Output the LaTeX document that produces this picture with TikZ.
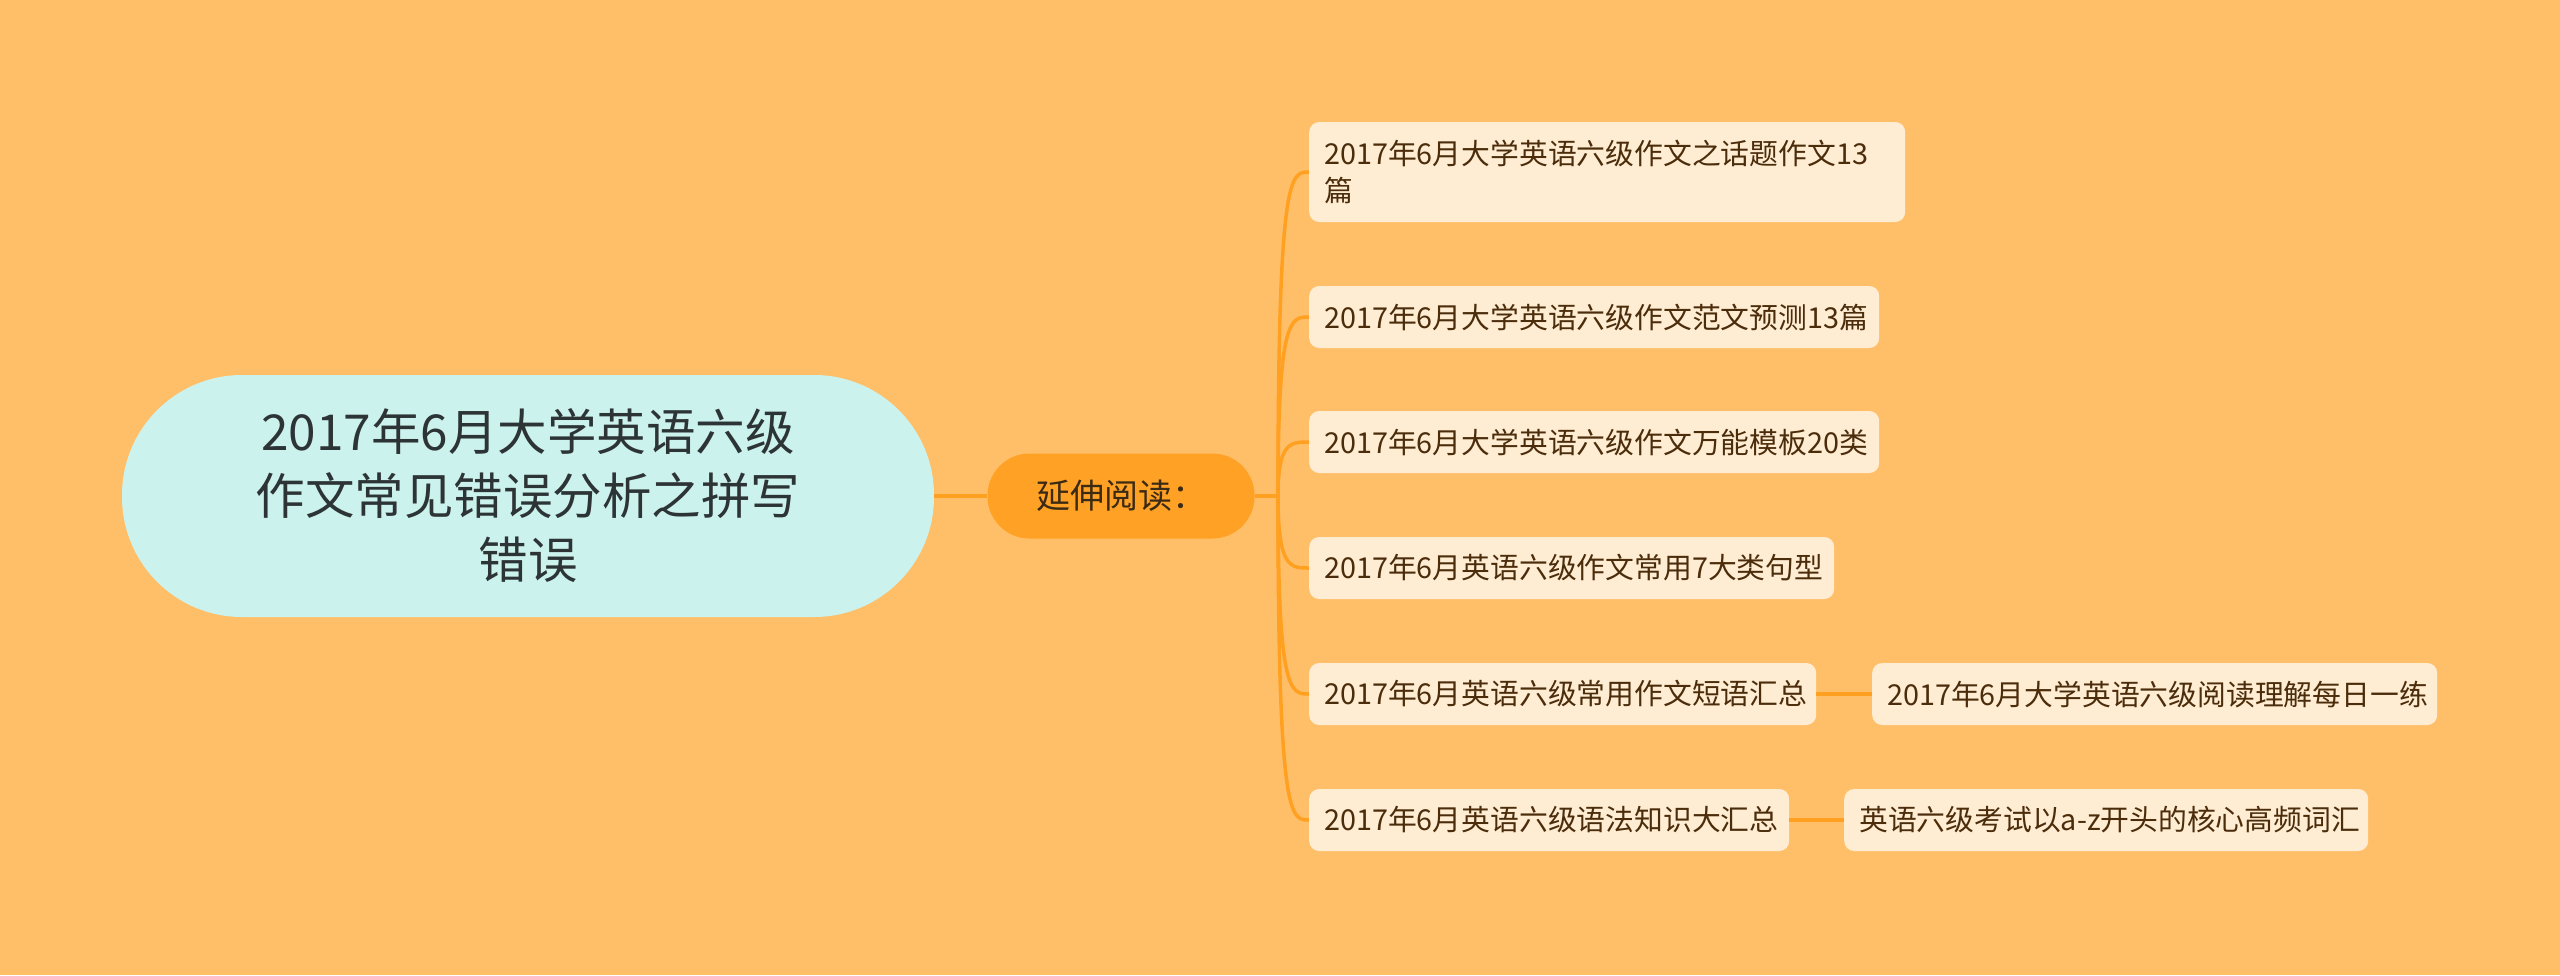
\documentclass[tikz,border=0pt]{standalone}
\usepackage{fontspec}
\usetikzlibrary{calc}
\setmainfont{Noto Sans CJK SC}
\definecolor{bgc}{HTML}{FFBF69}
\definecolor{rootfill}{HTML}{CCF2EE}
\definecolor{rootText}{HTML}{2D3436}
\definecolor{extfill}{HTML}{FFA124}
\definecolor{extText}{HTML}{3B2A14}
\definecolor{leaffill}{HTML}{FFEDD3}
\definecolor{leafText}{HTML}{4B2C0B}
\definecolor{linec}{HTML}{FFA020}
\tikzset{
  rootbox/.style={fill=rootfill, rounded corners=120pt, minimum width=812pt, minimum height=242pt,
    text width=620pt, align=center, text=rootText, font=\fontsize{49.5}{64}\selectfont, inner sep=0pt},
  extbox/.style={fill=extfill, rounded corners=42pt, minimum width=267pt, minimum height=85pt,
    text=extText, font=\fontsize{34}{40}\selectfont, inner sep=0pt},
  leafbox/.style={fill=leaffill, rounded corners=10pt, minimum height=62pt, inner xsep=15pt, inner ysep=0pt,
    anchor=west, align=left, text=leafText, font=\fontsize{28.8}{37}\selectfont},
  conn/.style={draw=linec, line width=4.5pt},
  curvec/.style={draw=linec, line width=3.5pt}
}
\begin{document}
\begin{tikzpicture}[x=1pt,y=-1pt]
\fill[bgc] (0,0) rectangle (2560,975);
\useasboundingbox (0,0) rectangle (2560,975);

\node[rootbox] (root) at (528,496) {2017年6月大学英语六级\\作文常见错误分析之拼写\\错误};
\node[extbox] (ext) at (1121,496) {延伸阅读：};

\node[leafbox, text width=566pt, minimum height=100pt] (l1) at (1309,172) {\mbox{2017年6月大学英语六级作文之话题作文13}\\篇};
\node[leafbox, text width=540pt] (l2) at (1309,317) {\mbox{2017年6月大学英语六级作文范文预测13篇}};
\node[leafbox, text width=540pt] (l3) at (1309,442) {\mbox{2017年6月大学英语六级作文万能模板20类}};
\node[leafbox, text width=495pt] (l4) at (1309,568) {\mbox{2017年6月英语六级作文常用7大类句型}};
\node[leafbox, text width=477pt] (l5) at (1309,694) {\mbox{2017年6月英语六级常用作文短语汇总}};
\node[leafbox, text width=450pt] (l6) at (1309,820) {\mbox{2017年6月英语六级语法知识大汇总}};
\node[leafbox, text width=535pt] (s5) at (1872,694) {\mbox{2017年6月大学英语六级阅读理解每日一练}};
\node[leafbox, text width=494pt] (s6) at (1844,820) {\mbox{英语六级考试以a-z开头的核心高频词汇}};

\draw[conn] (root.east) -- (ext.west);
\coordinate (j) at (1278,496);
\draw[conn] (ext.east) -- (j);
\foreach \n in {l1,l2,l3,l4,l5,l6}{
  \draw[curvec] (j) .. controls (j |- \n.west) and ($(j |- \n.west)!0.4!(\n.west)$) .. (\n.west);
}
\draw[conn] (l5.east) -- (s5.west);
\draw[conn] (l6.east) -- (s6.west);
\end{tikzpicture}
\end{document}
